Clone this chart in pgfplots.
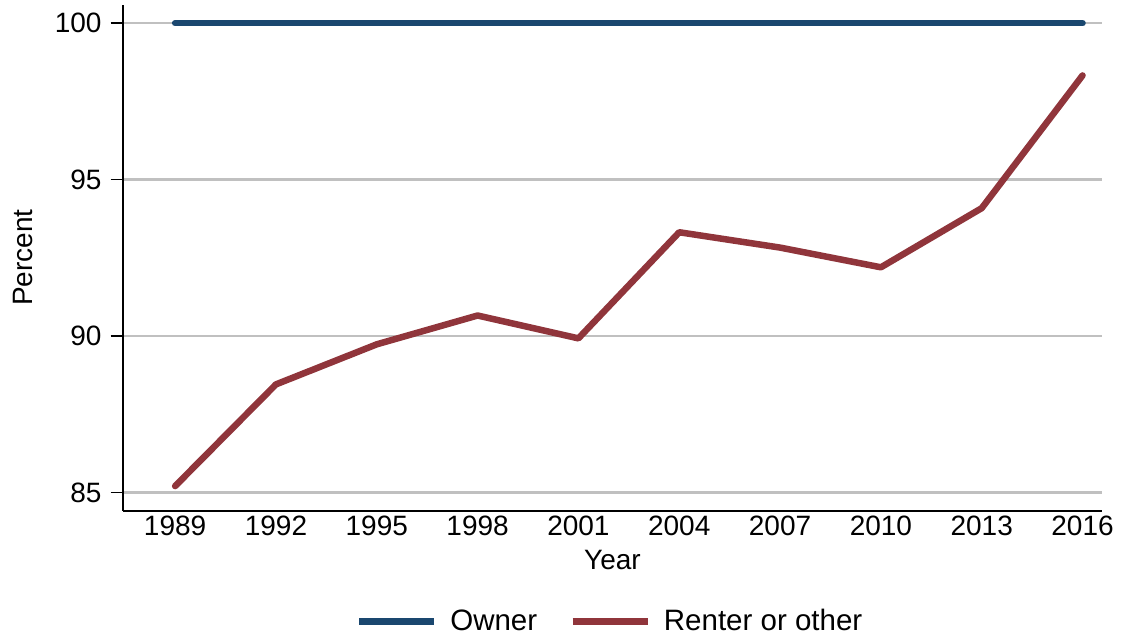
\documentclass[border=0pt]{standalone}
\usepackage{fontspec}
\setmainfont{Liberation Sans}
\usepackage{pgfplots}
\pgfplotsset{compat=1.18}
\definecolor{ownerblue}{RGB}{26,71,111}
\definecolor{rentred}{RGB}{144,53,59}
\definecolor{gridgray}{RGB}{192,192,192}
\begin{document}
\begin{tikzpicture}
\begin{axis}[
  scale only axis,
  width=979pt, height=506pt,
  xmin=1987.44, xmax=2016.57,
  ymin=84.415, ymax=100.58,
  axis x line*=bottom, axis y line*=left,
  axis line style={black, line width=2pt, -},
  xtick={1989,1992,...,2016},
  ytick={85,90,95,100},
  x tick style={draw=none},
  y tick style={black, line width=1.6pt},
  tick align=outside,
  major tick length=12pt,
  ymajorgrids, grid style={gridgray, line width=2.6pt},
  /pgf/number format/assume math mode=true,
  /pgf/number format/1000 sep={},
  tick label style={font=\fontsize{28}{34}\selectfont},
  xticklabel style={anchor=north, inner sep=0pt, yshift=7pt},
  yticklabel style={anchor=east, inner sep=0pt, xshift=-9pt},
  xlabel={Year}, ylabel={Percent},
  label style={font=\fontsize{28}{34}\selectfont},
  xlabel style={at={(axis description cs:0.5003,-0.0968)}, anchor=center},
  ylabel style={at={(axis description cs:-0.1018,0.5006)}, anchor=center},
  legend columns=2,
  legend style={draw=none, fill=none, at={(axis description cs:0.4977,-0.2174)}, anchor=center,
    font=\fontsize{29.5}{35}\selectfont, /tikz/every even column/.append style={column sep=30pt}},
  legend image code/.code={\draw[#1, line width=7pt, line cap=butt] (0pt,0pt) -- (75pt,0pt); \path (86pt,0pt);},
  clip=false,
]
\addplot[ownerblue, line width=6.5pt, line cap=round, line join=round] coordinates {
(1989,100) (1992,100) (1995,100) (1998,100) (2001,100) (2004,100) (2007,100) (2010,100) (2013,100) (2016,100)};
\addlegendentry{Owner}
\addplot[rentred, line width=6.5pt, line cap=round, line join=round] coordinates {
(1989,85.21) (1992,88.46) (1995,89.74) (1998,90.66) (2001,89.93) (2004,93.32) (2007,92.83) (2010,92.20) (2013,94.09) (2016,98.33)};
\addlegendentry{Renter or other}
\end{axis}
\pgfresetboundingbox
\path (-122.7pt,-128pt) rectangle (998.3pt,511pt);
\end{tikzpicture}
\end{document}
